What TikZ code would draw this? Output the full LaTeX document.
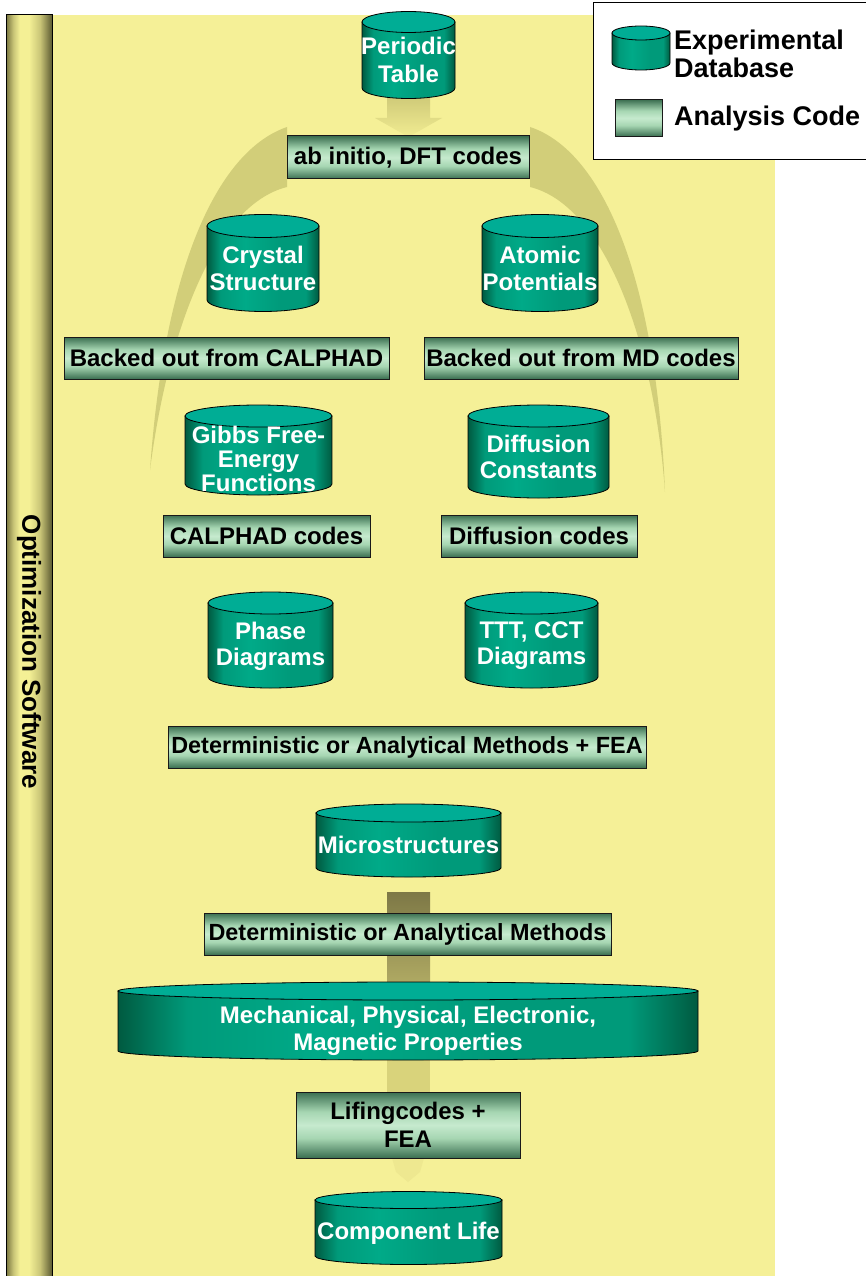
\documentclass[tikz,border=0pt]{standalone}
\usepackage{fontspec}
\setmainfont{Liberation Sans}
\definecolor{bg}{HTML}{F5F097}
\definecolor{arcc}{HTML}{D2CE79}
\definecolor{cyd}{HTML}{005A40}
\definecolor{cym}{HTML}{009A7A}
\definecolor{cyl}{HTML}{00AA88}
\definecolor{cytop}{HTML}{00AD95}
\definecolor{bxd}{HTML}{3A6E50}
\definecolor{bxl}{HTML}{A6D6B2}
\definecolor{bxl2}{HTML}{C6EACE}
\definecolor{bard}{HTML}{77743F}
\definecolor{barm}{HTML}{C9C577}
\definecolor{barl}{HTML}{F4F095}
\definecolor{bard2}{HTML}{5C5A32}
\definecolor{ta1}{HTML}{D0CB79}
\definecolor{ta2}{HTML}{F1EC92}
\definecolor{ma1}{HTML}{7D7846}
\definecolor{ma2}{HTML}{B3AD65}
\definecolor{la}{HTML}{D9D37B}
\definecolor{fa}{HTML}{EEE890}
\pgfdeclarehorizontalshading{cylside}{100bp}{color(0bp)=(cyd); color(25bp)=(cyd); color(31bp)=(cym); color(42bp)=(cyl); color(58bp)=(cym); color(69bp)=(cym); color(75bp)=(cyd); color(100bp)=(cyd)}
\pgfdeclareverticalshading{boxshade}{100bp}{color(0bp)=(bxd); color(25bp)=(bxd); color(40bp)=(bxl); color(50bp)=(bxl2); color(60bp)=(bxl); color(75bp)=(bxd); color(100bp)=(bxd)}
\pgfdeclarehorizontalshading{barshade}{100bp}{color(0bp)=(bard); color(25bp)=(bard); color(33bp)=(barm); color(40bp)=(barl); color(50bp)=(barl); color(62bp)=(barm); color(75bp)=(bard2); color(100bp)=(bard2)}
\newcommand{\dbcyl}[8]{%
  \pgfmathsetmacro\cylrx{#3/2}%
  \path[draw=black, line width=0.8pt, shade, shading=cylside]
    (#2-\cylrx,#4) -- (#2-\cylrx,#5)
    arc[start angle=180, end angle=360, x radius=\cylrx pt, y radius=#6pt]
    -- (#2+\cylrx,#4) -- cycle;
  \path[draw=black, line width=0.8pt, fill=cytop] (#2,#4) ellipse[x radius=\cylrx pt, y radius=#6pt];
  \node[cyltext] (#1) at (#2,#8) {#7};
}
\begin{document}
\begin{tikzpicture}[x=1pt,y=-1pt,
  cyltext/.style={text=white, font=\bfseries\fontsize{24}{27}\selectfont, align=center, inner sep=0pt},
  codebox/.style={draw=black!90, line width=1pt, shade, shading=boxshade, inner sep=0pt,
     font=\bfseries\fontsize{24}{28}\selectfont, align=center, text=black},
  legtext/.style={font=\bfseries\fontsize{27}{28}\selectfont, align=left, inner sep=0pt, text=black}]
\useasboundingbox (0,0) rectangle (865,1276);
% background
\fill[bg] (52,15) rectangle (775,1280);
% optimization bar
\path[draw=black, line width=1pt, shade, shading=barshade] (6,15) rectangle (52,1280);
\node[font=\bfseries\fontsize{26}{28}\selectfont, rotate=-90, inner sep=0pt] (opt) at (29,652) {Optimization Software};
% arcs
\fill[arcc] (287,127) .. controls (220,150) and (165,260) .. (150,470)
   .. controls (168,330) and (215,205) .. (287,187) -- cycle;
\fill[arcc] (530,127) .. controls (600,150) and (656,270) .. (665,492)
   .. controls (654,340) and (604,205) .. (530,187) -- cycle;
% block arrows
\shade[top color=ta1, bottom color=ta2] (387,98) -- (387,118) -- (375,118) -- (408.5,137) -- (442,118) -- (430,118) -- (430,98) -- cycle;
\shade[top color=ma1, bottom color=ma2] (387,892) rectangle (430,990);
\fill[la] (387,1055) rectangle (430,1095);
\fill[fa] (392,1158) -- (424,1158) -- (420,1172) -- (408,1182) -- (396,1172) -- cycle;
% legend
\draw[fill=white, line width=1pt] (593,2.5) rectangle (870,160);
\dbcyl{legcyl}{641}{58}{33}{63}{7}{}{48}
\node[codebox, minimum width=47, minimum height=37] (legbox) at (638.5,118) {};
\node[legtext, anchor=west] (legexp) at (674,54) {Experimental\\Database};
\node[legtext, anchor=west] (legana) at (674,119) {Analysis Code};
% databases
\dbcyl{periodic}{408.5}{93}{22}{88}{10.5}{Periodic\\[1pt]Table}{60}
\dbcyl{crystal}{263}{112}{226}{300}{11.5}{Crystal\\Structure}{268}
\dbcyl{atomic}{540}{116}{226}{300}{11.5}{Atomic\\Potentials}{268}
\dbcyl{gibbs}{258.5}{147}{416}{484}{11}{Gibbs Free-\\[-3pt]Energy\\[-3pt]Functions}{459}
\dbcyl{diffconst}{538.5}{141}{416}{487}{11}{Diffusion\\[-1pt]Constants}{457}
\dbcyl{phase}{270.5}{125}{603}{677}{11}{Phase\\[-1pt]Diagrams}{646}
\dbcyl{ttt}{531.5}{133}{603}{677}{11}{TTT, CCT\\[-1pt]Diagrams}{646}
\dbcyl{micro}{408.5}{185}{813}{868}{9}{Microstructures}{845}
\dbcyl{mech}{408}{580}{991}{1051}{9}{Mechanical, Physical, Electronic,\\Magnetic Properties}{1031}
\dbcyl{life}{408.5}{187}{1200}{1256}{8.5}{Component Life}{1233}
% analysis codes
\node[codebox, minimum width=242, minimum height=43] (abinitio) at (408,157.5) {ab initio, DFT codes};
\node[codebox, minimum width=325, minimum height=42] (calback) at (226.5,358) {Backed out from CALPHAD};
\node[codebox, minimum width=314, minimum height=42] (mdback) at (581,358) {Backed out from MD codes};
\node[codebox, minimum width=207, minimum height=42] (calphad) at (266.5,536) {CALPHAD codes};
\node[codebox, minimum width=196, minimum height=42] (diffcodes) at (539,536) {Diffusion codes};
\node[codebox, minimum width=478, minimum height=42] (detfea) at (407,747) {\fontsize{23.4}{28}\selectfont Deterministic or Analytical Methods + FEA};
\node[codebox, minimum width=407, minimum height=42] (det) at (407.5,934) {\fontsize{23.4}{28}\selectfont Deterministic or Analytical Methods};
\node[codebox, minimum width=224, minimum height=66] (lifing) at (408,1125) {Lifingcodes +\\FEA};
\end{tikzpicture}
\end{document}
